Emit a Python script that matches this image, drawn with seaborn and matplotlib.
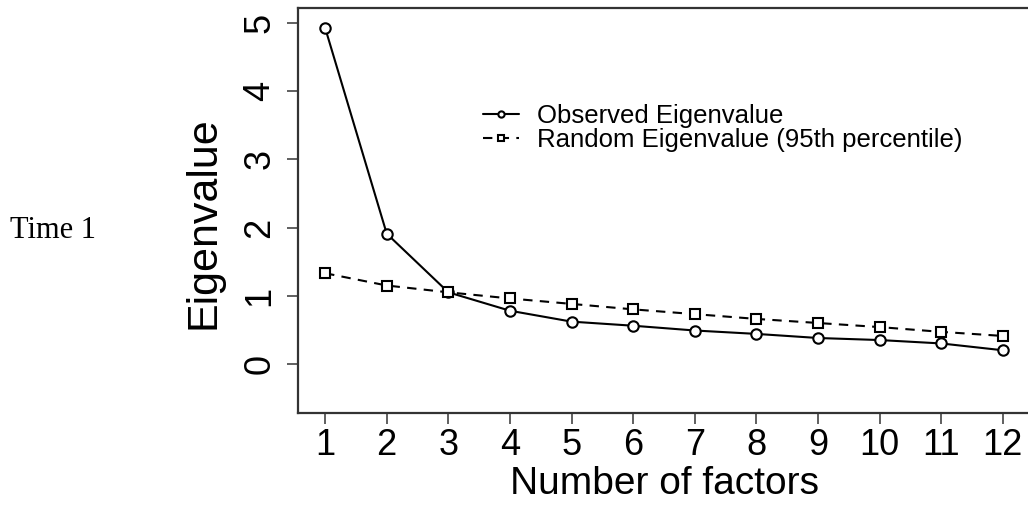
import pandas as pd
import matplotlib
matplotlib.use('Agg')
import matplotlib.pyplot as plt
import seaborn as sns

# eigenvalues
factors = [1, 2, 3, 4, 5, 6, 7, 8, 9, 10, 11, 12]
observed = [4.93, 1.91, 1.05, 0.78, 0.62, 0.56, 0.49, 0.44, 0.38, 0.35, 0.30, 0.20]
random_95 = [1.33, 1.15, 1.05, 0.96, 0.88, 0.80, 0.73, 0.66, 0.60, 0.54, 0.47, 0.41]
y_ticks = [0, 1, 2, 3, 4, 5]

sns.set_theme(style='ticks')
plt.rcParams['font.family'] = ['Liberation Sans', 'DejaVu Sans']
plt.rcParams['text.color'] = 'black'
plt.rcParams['axes.labelcolor'] = 'black'

df = pd.DataFrame({'factor': factors, 'observed': observed, 'random': random_95})

fig = plt.figure(figsize=(10.28, 5.14), dpi=100)
ax = fig.add_axes([298/1028, 1 - 413/514, (1030 - 298)/1028, (413 - 8)/514])

sns.lineplot(data=df, x='factor', y='observed', ax=ax, color='black', lw=1.5,
             marker='o', markersize=7.5, markerfacecolor='white',
             markeredgecolor='black', markeredgewidth=1.5,
             label='Observed Eigenvalue')
sns.lineplot(data=df, x='factor', y='random', ax=ax, color='black', lw=1.5,
             linestyle=(0, (4.5, 3.5)),
             marker='s', markersize=6.5, markerfacecolor='white',
             markeredgecolor='black', markeredgewidth=1.5,
             label='Random Eigenvalue (95th percentile)')

ax.set_xlim(0.56, 12.44)
ax.set_ylim(-0.72, 5.22)
ax.set_xticks(factors)
ax.set_yticks(y_ticks)
ax.tick_params(axis='both', labelsize=26, length=8, width=1.2, color='#444444',
               labelcolor='black')
ax.tick_params(axis='x', pad=3)
ax.tick_params(axis='y', labelrotation=90, pad=7)
for lbl in ax.get_yticklabels():
    lbl.set_va('center')

ax.set_xlabel('Number of factors', fontsize=28, labelpad=2)
ax.set_ylabel('Eigenvalue', fontsize=31)
ax.yaxis.set_label_coords(-0.102, 0.47)

for sp in ax.spines.values():
    sp.set_color('#333333')
    sp.set_linewidth(1.6)

leg = ax.legend(loc='center left', bbox_to_anchor=(483/1028, 1 - 128/514),
                bbox_transform=fig.transFigure, frameon=False, fontsize=18.5,
                borderpad=0, borderaxespad=0, handlelength=1.42,
                handletextpad=0.7, labelspacing=0.0, markerscale=0.6)

fig.text(10/1028, 1 - 230/514, 'Time 1', family=['Liberation Serif'],
         fontsize=22, va='center', ha='left')

plt.savefig('out.png', dpi=100)
plt.close()
